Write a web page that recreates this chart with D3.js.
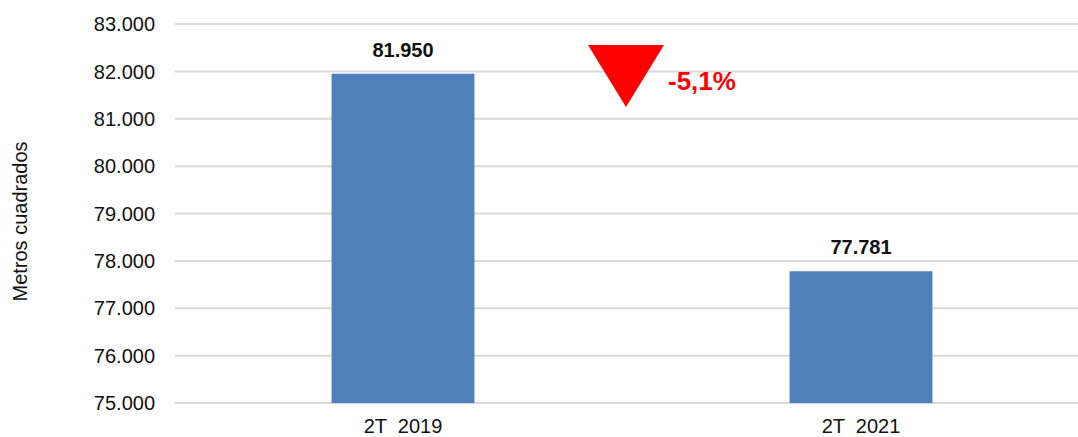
<!DOCTYPE html>
<html>
<head>
<meta charset="utf-8">
<script src="https://cdn.jsdelivr.net/npm/d3@7"></script>
<style>
  html, body { margin: 0; padding: 0; background: #fff; }
  svg { display: block; font-family: "Liberation Sans", Arial, Helvetica, sans-serif; }
  .grid line { stroke: #d9d9d9; stroke-width: 2; }
  .tick-label { font-size: 20px; fill: #111; }
  .x-label { font-size: 20px; fill: #111; white-space: pre; }
  .bar-label { font-size: 20px; font-weight: bold; fill: #111; }
</style>
</head>
<body>
<svg id="chart" width="1078" height="437"></svg>
<script>
// ── Data ─────────────────────────────────────────────────────────────────────

const categories = ["2T  2019", "2T  2021"];
const values = [81950, 77781];
const yTicks = [75000, 76000, 77000, 78000, 79000, 80000, 81000, 82000, 83000];
const changeLabel = "-5,1%";
const yTitle = "Metros cuadrados";

// ── Setup ────────────────────────────────────────────────────────────────────

const width = 1078;
const height = 437;
const svg = d3.select("#chart");

const fmt = (v) => d3.format(",")(v).replace(/,/g, ".");

const x = d3.scaleBand()
  .domain(categories)
  .range([174, 1090])
  .paddingInner(0.688)
  .paddingOuter(0.344);

const y = d3.scaleLinear()
  .domain([75000, 83000])
  .range([403, 24]);

// gridlines
svg.append("g")
  .attr("class", "grid")
  .selectAll("line")
  .data(yTicks)
  .join("line")
  .attr("x1", 175)
  .attr("x2", width)
  .attr("y1", (d) => y(d))
  .attr("y2", (d) => y(d));

// y tick labels
svg.append("g")
  .selectAll("text")
  .data(yTicks)
  .join("text")
  .attr("class", "tick-label")
  .attr("x", 155)
  .attr("y", (d) => y(d))
  .attr("dy", "0.36em")
  .attr("text-anchor", "end")
  .text(fmt);

// y title
svg.append("text")
  .attr("class", "tick-label")
  .attr("transform", `translate(27, ${(y.range()[0] + y.range()[1]) / 2 + 8}) rotate(-90)`)
  .attr("text-anchor", "middle")
  .text(yTitle);

// bars
svg.append("g")
  .selectAll("rect")
  .data(values)
  .join("rect")
  .attr("x", (d, i) => x(categories[i]))
  .attr("width", x.bandwidth())
  .attr("y", (d) => y(d))
  .attr("height", (d) => y(75000) - y(d))
  .attr("fill", "#4f81bd");

// value labels
svg.append("g")
  .selectAll("text")
  .data(values)
  .join("text")
  .attr("class", "bar-label")
  .attr("x", (d, i) => x(categories[i]) + x.bandwidth() / 2)
  .attr("y", (d) => y(d) - 17)
  .attr("text-anchor", "middle")
  .text(fmt);

// x labels
svg.append("g")
  .selectAll("text")
  .data(categories)
  .join("text")
  .attr("class", "x-label")
  .attr("x", (d) => x(d) + x.bandwidth() / 2)
  .attr("y", 433)
  .attr("text-anchor", "middle")
  .text((d) => d);

// change marker (down triangle, 76 wide x 62 tall)
svg.append("path")
  .attr("d", d3.line()([[-38, 0], [38, 0], [0, 62]]) + "Z")
  .attr("transform", "translate(626, 45)")
  .attr("fill", "#ff0000");

svg.append("text")
  .attr("x", 668)
  .attr("y", 90)
  .attr("font-size", "26px")
  .attr("font-weight", "bold")
  .attr("fill", "#ff0000")
  .text(changeLabel);
</script>
</body>
</html>
